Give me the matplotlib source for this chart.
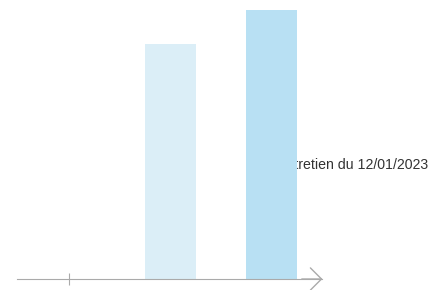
import matplotlib.pyplot as plt

plt.rcParams['font.family'] = ['Liberation Sans', 'DejaVu Sans']

# données
positions = [0, 1]
valeurs = [7, 8]
couleurs = ['#dbeef7', '#b8e0f3']
ticks_x = [-1]
annotation = 'Entretien du 12/01/2023'

fig = plt.figure(figsize=(4.47, 2.90), dpi=100)
ax = fig.add_axes([0, 0, 1, 1])

ax.set_xlim(-1.688, 2.738)
ax.set_ylim(-0.327, 8.3)

# texte derrière les barres
ax.text(2.55, 3.4, annotation, ha='right', va='center', fontsize=10.2,
        color='#333333', zorder=1)

ax.bar(positions, valeurs, width=0.505, color=couleurs, zorder=2)

# axe horizontal avec flèche
for s in ['top', 'right', 'left']:
    ax.spines[s].set_visible(False)
ax.spines['bottom'].set_position(('data', 0))
ax.spines['bottom'].set_bounds(-1.52, 1.5)
ax.spines['bottom'].set_color('#aaaaaa')
ax.spines['bottom'].set_zorder(3)
ax.set_xticks(ticks_x)
ax.set_xticklabels([''])
ax.set_yticks([])
ax.tick_params(axis='x', direction='inout', length=8, color='#aaaaaa')
ax.annotate('', xy=(1.505, 0), xytext=(1.3, 0),
            arrowprops=dict(arrowstyle='->,head_length=0.8,head_width=0.8',
                            color='#aaaaaa', lw=1, mutation_scale=10,
                            shrinkA=0, shrinkB=0))

plt.savefig('out.png', dpi=100)
